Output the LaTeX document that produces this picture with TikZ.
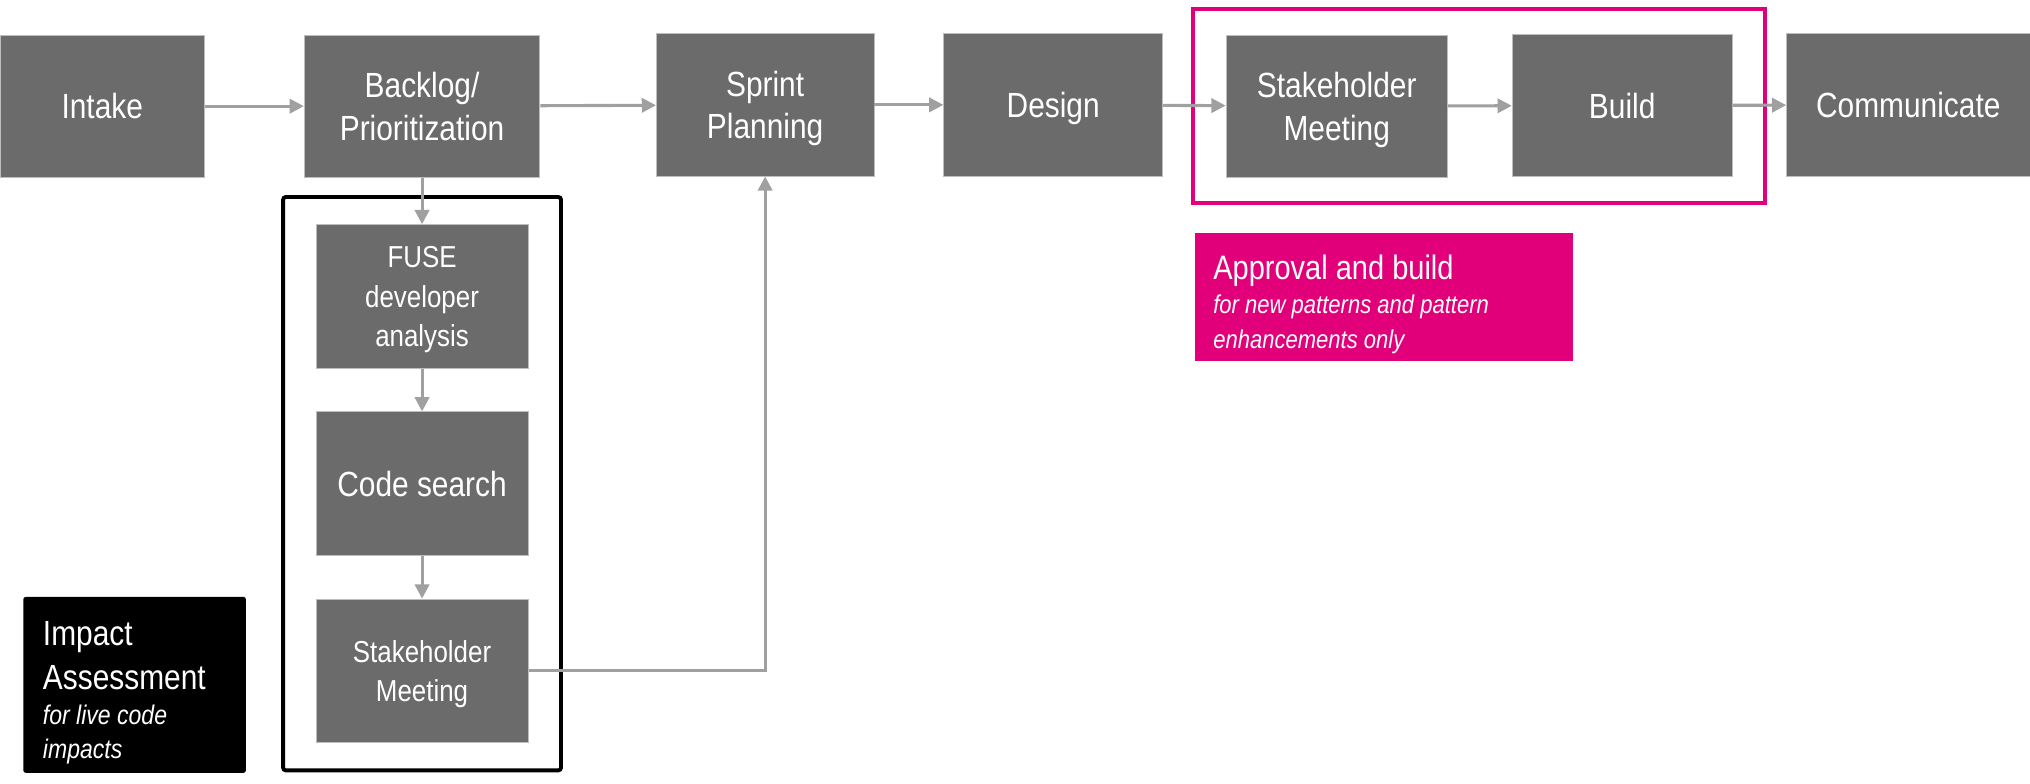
\documentclass[tikz,border=0pt]{standalone}
\usepackage{fontspec}
\setmainfont{Liberation Sans}[FakeStretch=0.855]
\usetikzlibrary{positioning,fit,arrows.meta}
\definecolor{boxgray}{HTML}{6B6B6B}
\definecolor{linegray}{HTML}{A0A0A0}
\definecolor{tmagenta}{HTML}{E2007A}

\begin{document}
\begin{tikzpicture}[x=1pt,y=-1pt,
    block/.style={rectangle, fill=boxgray, draw=linegray!70, line width=0.6pt, text=white, align=center, text depth=-6pt, minimum height=110pt, font=\fontsize{27}{33}\selectfont},
    subblock/.style={block, minimum width=164pt, minimum height=111pt, font=\fontsize{23.4}{30.5}\selectfont},
    link/.style={draw=linegray, line width=2.4pt, -{Triangle[length=11pt,width=11pt]}},
    frame/.style={rectangle, line width=3pt, inner xsep=25pt},
    note/.style={text=white, align=left, anchor=north west, inner sep=0pt}]
    \useasboundingbox (0,0) rectangle (1568,605);
    \node[block, minimum width=158pt] (intake) at (79,82) {Intake};
    \node[block, minimum width=182pt] (backlog) at (326,82) {Backlog/\\Prioritization};
    \node[block, minimum width=168pt] (sprint) at (591,81) {Sprint\\Planning};
    \node[block, minimum width=169pt] (design) at (813.5,81) {Design};
    \node[block, minimum width=171pt] (stakemeet) at (1032.5,82) {Stakeholder\\Meeting};
    \node[block, minimum width=170pt] (build) at (1253,81.5) {Build};
    \node[block, minimum width=188pt] (communicate) at (1474,81) {Communicate};
    \node[subblock] (fuse) at (326,229) {FUSE\\developer\\analysis};
    \node[subblock, below=33pt of fuse, font=\fontsize{27}{33}\selectfont] (codesearch) {Code search};
    \node[subblock, below=33pt of codesearch] (impactmeet) {Stakeholder\\Meeting};
    \node[frame, draw=tmagenta, inner ysep=19.5pt, fit=(stakemeet)(build)] (buildframe) {};
    \node[frame, draw=black, rounded corners=2pt, inner ysep=21pt, fit=(fuse)(impactmeet)] (impactframe) {};
    \node[fill=black, rounded corners=2pt, minimum width=172pt, minimum height=136pt] (impact) at (104,529) {};
    \node[note, font=\fontsize{27}{34}\selectfont] (impacttitle) at (33,479.5) {Impact\\Assessment};
    \node[note, font=\fontsize{20.8}{26}\selectfont\itshape] (impactnote) at (33,544.4) {for live code\\impacts};
    \node[fill=tmagenta, minimum width=292pt, minimum height=99pt] (approval) at (1069,229.5) {};
    \node[note, font=\fontsize{26.2}{30}\selectfont] (approvaltitle) at (937,196.5) {Approval and build};
    \node[note, font=\fontsize{19.9}{26.5}\selectfont\itshape] (approvalnote) at (937,227.8) {for new patterns and pattern\\enhancements only};
    \draw[link] (intake) -- (backlog);
    \draw[link] (backlog) -- (sprint);
    \draw[link] (sprint) -- (design);
    \draw[link] (design) -- (stakemeet);
    \draw[link] (stakemeet) -- (build);
    \draw[link] (build) -- (communicate);
    \draw[link] (backlog) -- (fuse);
    \draw[link] (fuse) -- (codesearch);
    \draw[link] (codesearch) -- (impactmeet);
    \draw[link] (impactmeet.east) -| (sprint.south);
\end{tikzpicture}
\end{document}
